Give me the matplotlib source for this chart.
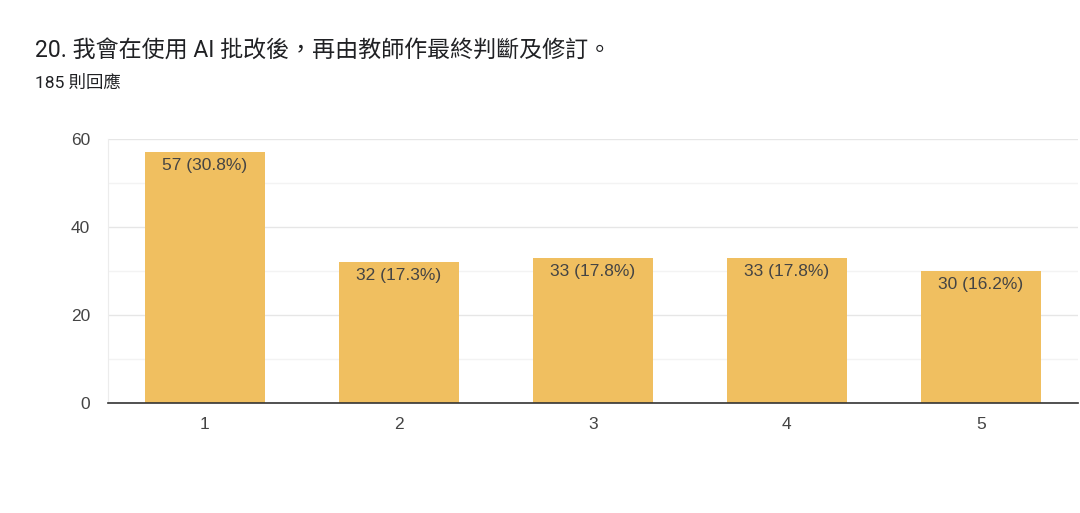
import matplotlib
matplotlib.use("Agg")
import matplotlib.pyplot as plt
from matplotlib.ticker import MultipleLocator

plt.rcParams['font.family'] = ['Roboto', 'Noto Sans CJK TC', 'DejaVu Sans']

title = "20. 我會在使用 AI 批改後，再由教師作最終判斷及修訂。"
subtitle = "185 則回應"
categories = ["1", "2", "3", "4", "5"]
counts = [57, 32, 33, 33, 30]
percents = [30.8, 17.3, 17.8, 17.8, 16.2]

bar_color = "#f0bf60"
text_color = "#444444"
chart_font = ['Liberation Sans', 'DejaVu Sans']

fig = plt.figure(figsize=(10.8, 5.13), dpi=100)
ax = fig.add_axes([0.1, 0.2144, 0.898, 0.5146])

x = list(range(len(categories)))
bars = ax.bar(x, counts, width=0.62, color=bar_color, zorder=3)

for b, c, p in zip(bars, counts, percents):
    ax.text(b.get_x() + b.get_width() / 2, c - 1.4, f"{c} ({p}%)",
            ha="center", va="top", fontsize=12.5, color=text_color,
            family=chart_font, zorder=4)

ax.set_xlim(-0.5, len(categories) - 0.5)
ax.set_ylim(0, 60)
ax.set_xticks(x)
ax.set_xticklabels(categories, family=chart_font)
ax.yaxis.set_major_locator(MultipleLocator(20))
ax.yaxis.set_minor_locator(MultipleLocator(10))
for lbl in ax.get_yticklabels():
    lbl.set_family(chart_font)

ax.grid(axis="y", which="major", color="#e6e6e6", linewidth=1, zorder=0)
ax.grid(axis="y", which="minor", color="#f3f3f3", linewidth=1, zorder=0)

for s in ["top", "right"]:
    ax.spines[s].set_visible(False)
ax.spines["left"].set_color("#ececec")
ax.spines["bottom"].set_color("#333333")
ax.spines["bottom"].set_linewidth(1.2)
ax.spines["bottom"].set_zorder(5)

ax.tick_params(axis="both", which="both", length=0, labelsize=12.5, colors=text_color)
ax.tick_params(axis="y", pad=13)
ax.tick_params(axis="x", pad=10)

fig.text(35 / 1080, 1 - 51 / 513, title, fontsize=16.6, color="#202124", va="center")
fig.text(35 / 1080, 1 - 83 / 513, subtitle, fontsize=12.5, color="#202124", va="center")

fig.savefig("out.png", dpi=100)
